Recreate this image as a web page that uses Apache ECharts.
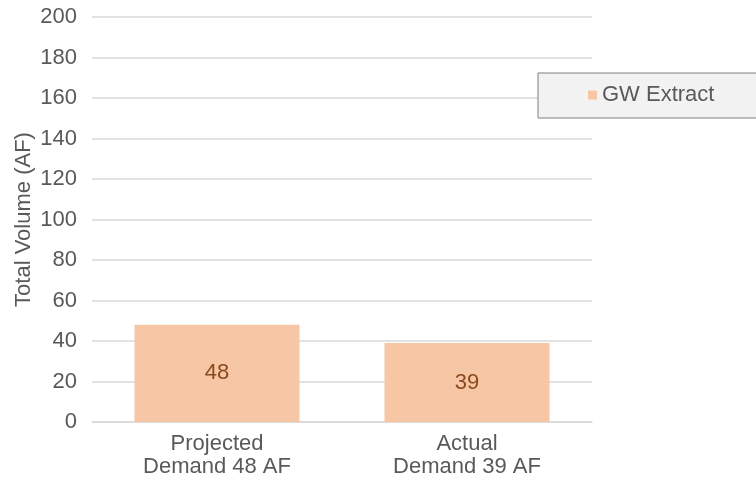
<!DOCTYPE html>
<html>
<head>
<meta charset="utf-8">
<script src="https://cdn.jsdelivr.net/npm/echarts@6/dist/echarts.min.js"></script>
<style>html,body{margin:0;padding:0;background:#fff}#c{width:756px;height:484px}</style>
</head>
<body>
<div id="c"></div>
<script>
const categories = ['Projected\nDemand 48 AF', 'Actual\nDemand 39 AF'];
const gwExtract = [48, 39];
const seriesName = 'GW Extract';
const yAxisName = 'Total Volume (AF)';

const chart = echarts.init(document.getElementById('c'), null, {renderer: 'canvas'});
const font = 'Liberation Sans, Arial, Helvetica, sans-serif';
chart.setOption({
  animation: false,
  backgroundColor: '#ffffff',
  grid: {left: 92, right: 164, top: 17, bottom: 62, containLabel: false},
  legend: {
    left: 538, top: 73,
    padding: [11, 80, 12, 50],
    backgroundColor: '#f2f2f2', borderColor: '#7f7f7f', borderWidth: 1,
    itemWidth: 9, itemHeight: 9, icon: 'rect',
    textStyle: {fontFamily: font, fontSize: 22, color: '#595959', lineHeight: 22},
    data: [seriesName]
  },
  xAxis: {
    type: 'category', data: categories,
    axisLine: {show: true, lineStyle: {color: '#d9d9d9', width: 1.5}},
    axisTick: {show: false},
    axisLabel: {fontFamily: font, fontSize: 22, color: '#595959', lineHeight: 23, margin: 10}
  },
  yAxis: {
    type: 'value', min: 0, max: 200, interval: 20,
    name: yAxisName, nameLocation: 'middle', nameGap: 57, nameMoveOverlap: false,
    nameTextStyle: {fontFamily: font, fontSize: 22, color: '#595959'},
    axisLine: {show: false}, axisTick: {show: false},
    splitLine: {lineStyle: {color: '#d9d9d9', width: 1.5}},
    axisLabel: {fontFamily: font, fontSize: 22, color: '#595959', margin: 15}
  },
  series: [{
    name: seriesName, type: 'bar', data: gwExtract, barWidth: '66%',
    itemStyle: {color: '#f6c6a5'},
    label: {show: true, position: 'inside', fontFamily: font, fontSize: 22, color: '#8a4a1f'}
  }]
});
</script>
</body>
</html>
